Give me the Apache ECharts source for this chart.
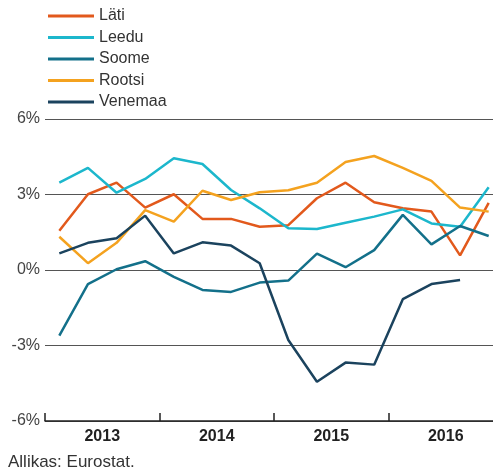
<!DOCTYPE html>
<html>
<head>
<meta charset="utf-8">
<script src="https://cdn.jsdelivr.net/npm/echarts@6/dist/echarts.min.js"></script>
<style>
  html, body { margin: 0; padding: 0; background: #fff; }
  #chart { width: 493px; height: 472px; }
</style>
</head>
<body>
<div id="chart"></div>
<script>
  // kvartalid 2013 I - 2016 IV
  var quarters = ['2013Q1','2013Q2','2013Q3','2013Q4','2014Q1','2014Q2','2014Q3','2014Q4',
                  '2015Q1','2015Q2','2015Q3','2015Q4','2016Q1','2016Q2','2016Q3','2016Q4'];
  var years = ['2013', '2014', '2015', '2016'];
  var yTicks = [-6, -3, 0, 3, 6];

  var lati    = [1.56, 3.01, 3.47, 2.48, 3.01, 2.03, 2.03, 1.72, 1.78, 2.85, 3.47, 2.69, 2.45, 2.32, 0.58, 2.67];
  var leedu   = [3.47, 4.06, 3.07, 3.62, 4.44, 4.21, 3.18, 2.45, 1.66, 1.63, 1.88, 2.12, 2.41, 1.85, 1.72, 3.29];
  var soome   = [-2.61, -0.56, 0.03, 0.35, -0.27, -0.79, -0.87, -0.50, -0.42, 0.65, 0.11, 0.79, 2.19, 1.02, 1.75, 1.35];
  var rootsi  = [1.32, 0.27, 1.08, 2.38, 1.92, 3.15, 2.78, 3.09, 3.17, 3.47, 4.29, 4.53, 4.06, 3.54, 2.48, 2.32];
  var venemaa = [0.66, 1.08, 1.26, 2.16, 0.66, 1.10, 0.97, 0.27, -2.78, -4.44, -3.68, -3.76, -1.16, -0.56, -0.40, null];

  var names  = ['Läti', 'Leedu', 'Soome', 'Rootsi', 'Venemaa'];
  var colors = ['#e2591c', '#1cb7cc', '#13708a', '#f4a21f', '#1b435e'];
  var values = [lati, leedu, soome, rootsi, venemaa];

  var chart = echarts.init(document.getElementById('chart'));
  var font = 'Liberation Sans, Arial, sans-serif';

  var series = [];
  for (var i = 0; i < names.length; i++) {
    series.push({
      name: names[i],
      type: 'line',
      xAxisIndex: 0,
      data: values[i],
      showSymbol: false,
      symbol: 'none',
      lineStyle: { width: 2.5, color: colors[i] },
      itemStyle: { color: colors[i] },
      clip: false
    });
  }

  chart.setOption({
    animation: false,
    color: colors,
    textStyle: { fontFamily: font },
    legend: {
      orient: 'vertical',
      left: 48,
      top: 8,
      padding: 0,
      icon: 'rect',
      itemWidth: 46,
      itemHeight: 3,
      itemGap: 5.5,
      textStyle: { fontSize: 16, color: '#333', lineHeight: 16, fontFamily: font },
      data: names
    },
    // plot runs past the right edge of the picture, as in the original
    grid: { left: 45, width: 458, top: 119, height: 302, outerBoundsMode: 'none', containLabel: false },
    xAxis: [
      {
        type: 'category',
        data: quarters,
        boundaryGap: true,
        show: false
      },
      {
        type: 'category',
        data: years,
        position: 'bottom',
        boundaryGap: true,
        axisLine: { show: true, lineStyle: { color: '#222', width: 1.5 } },
        axisTick: { show: true, inside: true, length: 8, lineStyle: { color: '#222', width: 1.5 } },
        axisLabel: { fontSize: 16, fontWeight: 'bold', color: '#222', margin: 8, fontFamily: font },
        splitLine: { show: false }
      }
    ],
    yAxis: {
      type: 'value',
      min: yTicks[0],
      max: yTicks[yTicks.length - 1],
      interval: 3,
      axisLine: { show: false },
      axisTick: { show: false },
      axisLabel: { formatter: '{value}%', fontSize: 16, color: '#444', margin: 5, fontFamily: font },
      splitLine: { lineStyle: { color: '#555', width: 1 } }
    },
    graphic: [{
      type: 'text',
      left: 8,
      top: 454,
      style: { text: 'Allikas: Eurostat.', fontSize: 17, fill: '#333', fontFamily: font }
    }],
    series: series
  });
</script>
</body>
</html>
